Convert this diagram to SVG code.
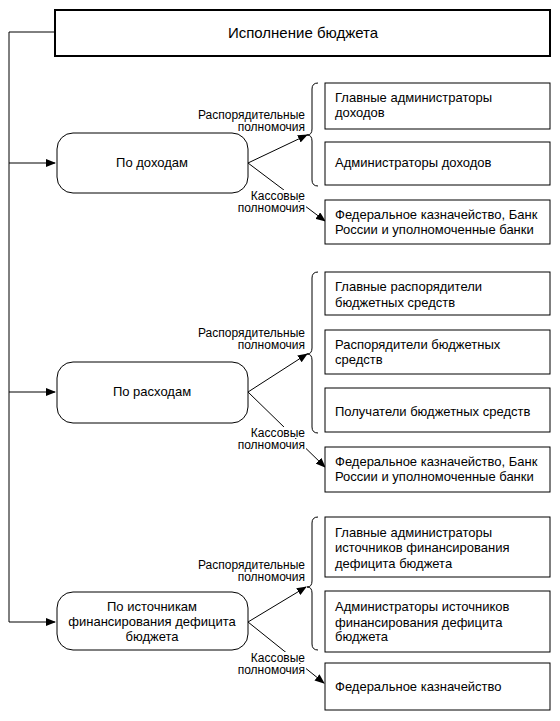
<svg xmlns="http://www.w3.org/2000/svg" width="560" height="721" viewBox="0 0 560 721">
<defs>
<marker id="ah" markerWidth="10" markerHeight="8" refX="9" refY="4" orient="auto" markerUnits="userSpaceOnUse">
<path d="M0,0 L10,4 L0,8 Z" fill="#000"/>
</marker>
<style>
.t{font-family:"Liberation Sans",Arial,sans-serif;font-size:13px;fill:#000}
.l{font-family:"Liberation Sans",Arial,sans-serif;font-size:12px;fill:#000;text-anchor:end}
.c{text-anchor:middle}
.box{fill:#fff;stroke:#000;stroke-width:1}
.rb{fill:#fff;stroke:#000;stroke-width:1}
.ln{fill:none;stroke:#000;stroke-width:1}
.bg{fill:#fff}
</style>
</defs>
<rect width="560" height="721" fill="#fff"/>

<g id="connectors">
<path class="ln" d="M55,32 H9 V622"/>
<path class="ln" d="M9,163 H55" marker-end="url(#ah)"/>
<path class="ln" d="M9,392 H55" marker-end="url(#ah)"/>
<path class="ln" d="M9,622 H55" marker-end="url(#ah)"/>
<path class="ln" d="M248,163 L307,135" marker-end="url(#ah)"/>
<path class="ln" d="M248,163 L325,221" marker-end="url(#ah)"/>
<path class="ln" d="M248,392 L307,354" marker-end="url(#ah)"/>
<path class="ln" d="M248,392 L325,467" marker-end="url(#ah)"/>
<path class="ln" d="M248,622 L306,587" marker-end="url(#ah)"/>
<path class="ln" d="M248,622 L324,683" marker-end="url(#ah)"/>
<path class="ln" d="M318,83 Q312,83 312,89 L312,129 Q312,135 307,135 Q312,135 312,141 L312,180 Q312,186 318,186"/>
<path class="ln" d="M318,272 Q312,272 312,278 L312,348 Q312,354 307,354 Q312,354 312,360 L312,427 Q312,433 318,433"/>
<path class="ln" d="M318,517 Q312,517 312,523 L312,581 Q312,587 307,587 Q312,587 312,593 L312,644 Q312,650 318,650"/>
</g>

<g id="labels">
<text class="l" x="305" y="119">Распорядительные</text>
<text class="l" x="305" y="131">полномочия</text>
<rect class="bg" x="260" y="190" width="46" height="11"/>
<rect class="bg" x="246" y="202" width="60" height="11"/>
<text class="l" x="305" y="200">Кассовые</text>
<text class="l" x="305" y="212">полномочия</text>

<text class="l" x="305" y="337">Распорядительные</text>
<text class="l" x="305" y="349">полномочия</text>
<rect class="bg" x="260" y="427" width="46" height="11"/>
<rect class="bg" x="246" y="439" width="60" height="11"/>
<text class="l" x="305" y="437">Кассовые</text>
<text class="l" x="305" y="449">полномочия</text>

<text class="l" x="305" y="569">Распорядительные</text>
<text class="l" x="305" y="581">полномочия</text>
<rect class="bg" x="260" y="652" width="46" height="11"/>
<rect class="bg" x="246" y="664" width="60" height="11"/>
<text class="l" x="305" y="662">Кассовые</text>
<text class="l" x="305" y="674">полномочия</text>
</g>

<g id="root">
<rect x="55" y="10" width="495" height="46" fill="#fff" stroke="#000" stroke-width="2"/>
<text class="t c" x="303" y="38" style="font-size:15px">Исполнение бюджета</text>
</g>

<g id="income">
<rect class="rb" x="57" y="133" width="191" height="60" rx="16"/>
<text class="t c" x="152" y="167">По доходам</text>
</g>
<g id="expense">
<rect class="rb" x="57" y="362" width="191" height="61" rx="16"/>
<text class="t c" x="152" y="396">По расходам</text>
</g>
<g id="sources">
<rect class="rb" x="57" y="592" width="191" height="58" rx="16"/>
<text class="t c" x="152" y="611">По источникам</text>
<text class="t c" x="152" y="626">финансирования дефицита</text>
<text class="t c" x="152" y="641">бюджета</text>
</g>

<g id="box-a">
<rect class="box" x="325" y="83" width="225" height="46"/>
<text class="t" x="335" y="102">Главные администраторы</text>
<text class="t" x="335" y="117">доходов</text>
</g>
<g id="box-b">
<rect class="box" x="325" y="142" width="225" height="43"/>
<text class="t" x="335" y="167">Администраторы доходов</text>
</g>
<g id="box-c">
<rect class="box" x="325" y="200" width="225" height="44"/>
<text class="t" x="335" y="219">Федеральное казначейство, Банк</text>
<text class="t" x="335" y="234">России и уполномоченные банки</text>
</g>

<g id="box-d">
<rect class="box" x="325" y="272" width="225" height="43"/>
<text class="t" x="335" y="291">Главные распорядители</text>
<text class="t" x="335" y="307">бюджетных средств</text>
</g>
<g id="box-e">
<rect class="box" x="325" y="330" width="225" height="44"/>
<text class="t" x="335" y="349">Распорядители бюджетных</text>
<text class="t" x="335" y="364">средств</text>
</g>
<g id="box-f">
<rect class="box" x="325" y="388" width="225" height="44"/>
<text class="t" x="335" y="416">Получатели бюджетных средств</text>
</g>
<g id="box-g">
<rect class="box" x="325" y="447" width="225" height="45"/>
<text class="t" x="335" y="466">Федеральное казначейство, Банк</text>
<text class="t" x="335" y="481">России и уполномоченные банки</text>
</g>

<g id="box-h">
<rect class="box" x="325" y="517" width="225" height="60"/>
<text class="t" x="335" y="537">Главные администраторы</text>
<text class="t" x="335" y="552">источников финансирования</text>
<text class="t" x="335" y="568">дефицита бюджета</text>
</g>
<g id="box-i">
<rect class="box" x="325" y="591" width="225" height="61"/>
<text class="t" x="335" y="611">Администраторы источников</text>
<text class="t" x="335" y="627">финансирования дефицита</text>
<text class="t" x="335" y="641">бюджета</text>
</g>
<g id="box-j">
<rect class="box" x="325" y="663" width="225" height="47"/>
<text class="t" x="335" y="691">Федеральное казначейство</text>
</g>
</svg>
